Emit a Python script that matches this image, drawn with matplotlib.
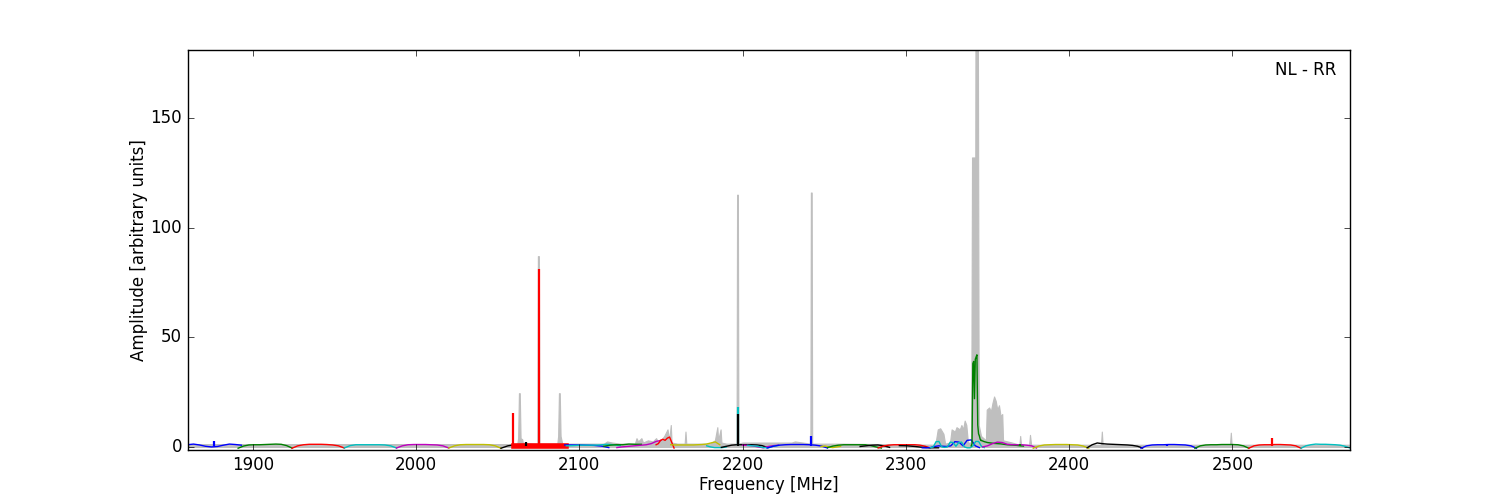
import numpy as np
import matplotlib
matplotlib.use("Agg")
import matplotlib.pyplot as plt

plt.style.use('classic')

# Gray envelope (maximum spectrum), frequency [MHz] and amplitude
gray_freq = [1860, 2058,
             2062.0, 2062.5, 2063.0, 2063.5, 2064.0, 2065.0, 2065.5,
             2074.3, 2074.6, 2075.2, 2075.5,
             2086.5, 2087.0, 2087.5, 2088.0, 2088.5, 2089.5,
             2090, 2115, 2117, 2120, 2125, 2134, 2135, 2136, 2138, 2139, 2142, 2145,
             2147, 2148, 2150, 2152, 2154, 2155, 2156, 2156.5, 2160,
             2164.5, 2165, 2165.5, 2180, 2183, 2184.5, 2185, 2186.5, 2187, 2190,
             2196.3, 2196.6, 2197.1, 2197.4, 2200, 2230, 2232,
             2241.5, 2241.8, 2242.3, 2242.6, 2260, 2318,
             2319.5, 2321, 2323, 2324, 2327, 2328, 2330, 2331, 2333, 2334, 2335, 2336,
             2337, 2338, 2340, 2340.5, 2342.5, 2342.6, 2344.1, 2344.6, 2346, 2349,
             2349.5, 2351, 2352, 2353, 2354, 2355, 2356, 2357, 2358, 2359, 2359.5,
             2365, 2369.5, 2370, 2370.5, 2375.5, 2376, 2376.7,
             2419.5, 2420, 2420.5, 2498.5, 2499, 2499.5, 2572]
gray_amp = [1.3, 1.3,
            1.5, 4, 24.5, 24.5, 4, 3.5, 1.5,
            1.5, 87, 87, 1.5,
            1.5, 5, 24.5, 24.5, 5, 1.5,
            1.5, 1.5, 2.5, 2, 1.5, 1.5, 4, 2.5, 4, 2, 3, 2.5,
            4, 2.5, 3, 5, 8, 3, 10, 2, 1.5,
            1.5, 7, 1.5, 1.5, 3, 9, 3, 8, 2, 1.5,
            1.5, 115, 115, 1.5, 2, 2, 2.5,
            1.5, 116, 116, 1.5, 1.5, 1,
            8, 8.5, 6, 1.5, 2, 8, 7, 9, 8, 10, 8, 12,
            10, 2, 2, 132, 132, 185, 185, 10, 5, 3,
            17, 18, 16, 20, 23, 21, 17, 19, 14, 15, 3,
            2, 1, 5, 1, 1, 5.5, 1,
            1, 7, 1, 1, 6.5, 1, 1]

# Per-subband median spectra: colour, start/end frequency, sampled amplitudes
seg_colors = ['b', 'g', 'r', 'c', 'm', 'y', 'k', 'r',
              'b', 'c', 'g', 'm', 'r', 'y', 'c', 'k', 'm', 'c',
              'b', 'y', 'g', 'k', 'r', 'k', 'b', 'c', 'g', 'g', 'm',
              'y', 'k', 'b', 'g', 'r', 'c']
seg_start = [1860, 1891, 1924, 1956, 1988, 2020, 2052, 2060,
             2091, 2092, 2115, 2123, 2147, 2156, 2178, 2187, 2200, 2203,
             2215, 2248, 2252, 2272, 2283, 2296, 2310, 2315, 2340, 2346, 2347,
             2378, 2411, 2444, 2477, 2510, 2542]
seg_end = [1893, 1924, 1956, 1988, 2020, 2052, 2090, 2092,
           2118, 2125, 2138, 2150, 2158, 2186, 2190, 2215, 2222, 2222,
           2252, 2260, 2285, 2290, 2315, 2320, 2345, 2348, 2346, 2372, 2380,
           2412, 2445, 2478, 2510, 2542, 2572]
seg_amps = [
    [1.0, 1.3, 0.9, 0.3, 0.0, 0.2, 0.8, 1.3, 1.1, 0.8],
    [-0.6, 0.4, 0.9, 1.0, 1.0, 1.1, 1.2, 1.3, 1.2, 0.6, -0.5],
    [-0.6, 0.5, 1.0, 1.2, 1.2, 1.2, 1.1, 0.9, 0.5, -0.5],
    [-0.5, 0.6, 1.0, 1.0, 1.0, 1.0, 1.0, 0.9, 0.5, -0.5],
    [-0.5, 0.5, 1.0, 1.1, 1.1, 1.1, 1.0, 0.9, 0.5, -0.5],
    [-0.5, 0.5, 1.0, 1.1, 1.1, 1.1, 1.1, 1.0, 0.5, -0.6],
    [-0.6, 0.5, 1.0, 1.1, 1.1, 1.0, 1.0, 1.0, 0.9, 0.8],
    [0.4, 0.4],
    [0.9, 0.9, 0.9, 0.8, 0.7, 0.4, -0.3],
    [0.5, 0.6, 0.8, 0.8, 0.8, 0.9, 1.2, 1.0, 0.6],
    [0.3, 0.8, 1.0, 1.0, 1.3, 1.2, 1.2],
    [-0.3, 0.0, 0.2, 0.4, 0.6, 0.8, 1.0, 1.5, 2.5, 3.0],
    [1.0, 1.5, 3.0, 3.5, 3.0, 4.0, 4.5, 2.0, -0.5],
    [1.0, 0.9, 0.9, 0.9, 0.9, 0.9, 1.0, 1.1, 1.3, 1.8, 2.3, 1.0],
    [0.5, 0.0, -0.3, -0.3, -0.3, 0.0],
    [-0.2, 0.3, 0.8, 1.0, 1.0, 1.0, 1.0, 0.9, 0.6, -0.2],
    [0.8, 0.7, 0.5, 0.0, -0.4, 0.2, 0.6, 0.8],
    [0.7, 0.5, 0.3, -0.3, -0.4, 0.3, 0.7],
    [-0.5, 0.3, 0.8, 1.0, 1.1, 1.1, 1.1, 1.0, 0.8, 0.4, -0.5],
    [0.2, 0.4, 0.0, -0.3, 0.0, 0.3],
    [-0.3, 0.4, 0.8, 1.0, 1.0, 1.0, 1.0, 1.0, 0.6, 0.0, -0.5],
    [0.2, 0.5, 0.8, 0.9, 0.5, -0.2],
    [-0.5, 0.4, 0.8, 1.0, 1.0, 1.0, 1.0, 1.0, 0.8, 0.3, -0.5],
    [0.6, 0.5, 0.2, -0.2, -0.4, -0.4],
    [-0.4, -0.4, -0.3, 0.2, 0.5, 0.3, 0.2, 0.5, 2.4, 2.2, 0.5, 3.0, 3.2, 0.5, -0.3],
    [-0.4, 0.0, 2.4, 2.5, 0.0, -0.2, 0.0, 2.2, 2.0, 0.3, 2.0, 2.2, 0.0, -0.4, -0.4,
     0.5, 2.5, 2.5, 0.3, -0.3],
    [0.5, 1.5, 38, 39, 22, 40, 41, 42, 10, 6, 5, 3.5, 3.0],
    [3.0, 2.4, 2.0, 1.8, 1.6, 1.5, 1.4, 1.2, 1.0, 0.9, 0.8, 0.7, 0.5, 0.4],
    [0.0, 0.5, 1.5, 2.2, 2.0, 1.2, 1.0, 1.0, 1.0, 0.8, 0.5, -0.5],
    [-0.6, 0.4, 0.9, 1.0, 1.1, 1.1, 1.1, 1.0, 0.9, 0.4, -0.6],
    [-0.4, 1.0, 1.8, 1.5, 1.3, 1.2, 1.1, 1.0, 0.9, 0.7, 0.3, -0.5],
    [-0.6, 0.5, 0.9, 1.0, 1.0, 1.1, 1.1, 1.0, 0.9, 0.5, -0.6],
    [-0.6, 0.5, 0.9, 1.0, 1.0, 1.1, 1.1, 1.1, 1.0, 0.5, -0.6],
    [-0.6, 0.5, 0.9, 1.0, 1.0, 1.1, 1.1, 1.0, 0.9, 0.5, -0.6],
    [-0.6, 0.5, 1.0, 1.3, 1.2, 1.2, 1.1, 1.0, 0.8, 0.3, -0.5],
]
seg_width = [1.0] * len(seg_colors)
seg_width[7] = 4.0

# Narrow spikes in the median spectra
spike_freq = [1876, 2067.5, 2059.5, 2075, 2197, 2197, 2242, 2460, 2524, 2370]
spike_amp = [2.5, 2.2, 15.5, 81, 18, 15, 5, 1.5, 4.2, 1.5]
spike_color = ['b', 'k', 'r', 'r', 'c', 'k', 'b', 'b', 'r', 'g']

fig = plt.figure(figsize=(15, 5), dpi=100)
ax = fig.add_subplot(111)
fig.patch.set_facecolor('white')

ax.fill_between(gray_freq, 0, gray_amp, color='0.75', linewidth=0.8,
                edgecolor='0.75')

for col, f0, f1, amps, lw in zip(seg_colors, seg_start, seg_end, seg_amps, seg_width):
    f = np.linspace(f0, f1, len(amps))
    ax.plot(f, amps, color=col, linewidth=lw)

for f, a, col in zip(spike_freq, spike_amp, spike_color):
    ax.vlines(f, 0.5, a, color=col, linewidth=1.6)

ax.set_xlim(1860, 2572)
ax.set_ylim(-1.4, 181)
ax.set_yticks([0, 50, 100, 150])
ax.set_xlabel('Frequency [MHz]', labelpad=1.5)
ax.set_ylabel('Amplitude [arbitrary units]', labelpad=2)
ax.text(0.988, 0.95, 'NL - RR', transform=ax.transAxes, ha='right', va='center',
        fontsize=12)

fig.savefig('out.png', dpi=100, facecolor='white')
